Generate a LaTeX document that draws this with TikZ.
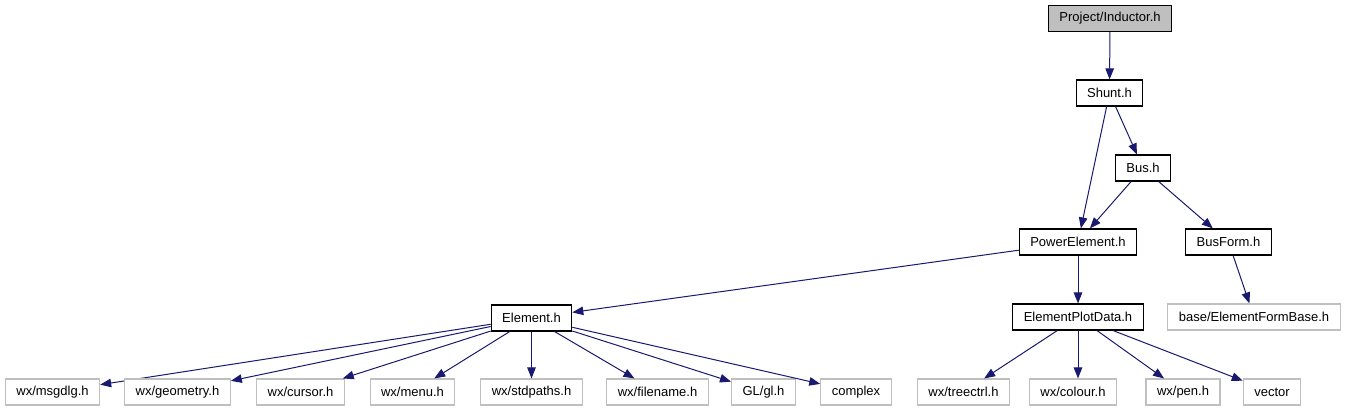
\documentclass[tikz,border=0pt]{standalone}
\usepackage{fontspec}
\setmainfont{Liberation Sans}
\usetikzlibrary{shapes,arrows,arrows.meta,positioning}
\definecolor{EdgeNavy}{RGB}{25, 25, 112}
\definecolor{BoxGray}{RGB}{191, 191, 191}

\tikzset{
  hdr/.style={draw=black, line width=1.1pt, fill=white, inner xsep=11pt, inner ysep=0pt,
    minimum height=26pt, font=\fontsize{13}{15}\selectfont},
  extern/.style={hdr, draw=BoxGray},
  root/.style={hdr, fill=BoxGray},
  dep/.style={draw=EdgeNavy, line width=1pt, -{Triangle[length=11pt,width=8.5pt]}}
}

\begin{document}
\begin{tikzpicture}[x=1pt, y=-1pt]
    \useasboundingbox (0,0) rectangle (1346,411);

    % documented headers
    \node[root] (inductor) at (1110, 18.5) {Project/Inductor.h};
    \node[hdr] (shunt) at (1109.5, 93) {Shunt.h};
    \node[hdr] (bus) at (1143, 168) {Bus.h};
    \node[hdr] (power) at (1078, 242) {PowerElement.h};
    \node[hdr] (busform) at (1228.5, 242) {BusForm.h};
    \node[hdr] (element) at (531.5, 318) {Element.h};
    \node[hdr] (plotdata) at (1078, 317) {ElementPlotData.h};
    \node[extern] (formbase) at (1254, 317) {base/ElementFormBase.h};

    \draw[dep] (inductor) -- (shunt);
    \draw[dep] (shunt) -- (power);
    \draw[dep] (shunt) -- (bus);
    \draw[dep] (bus) -- (power);
    \draw[dep] (bus) -- (busform);
    \draw[dep] (power) -- (element);
    \draw[dep] (power) -- (plotdata);
    \draw[dep] (busform) -- (formbase);

    % system headers below Element.h
    \foreach \name/\x/\txt in {msgdlg/52.5/{wx/msgdlg.h}, geometry/177.5/{wx/geometry.h},
        cursor/300.5/{wx/cursor.h}, menu/412.5/{wx/menu.h}, stdpaths/531.5/{wx/stdpaths.h},
        filename/657.5/{wx/filename.h}, gl/763.5/{GL/gl.h}, complex/856/{complex}} {
      \node[extern] (\name) at (\x, 392) {\txt};
      \draw[dep] (element) -- (\name);
    }

    % system headers below ElementPlotData.h
    \foreach \name/\x/\txt in {treectrl/963.5/{wx/treectrl.h}, colour/1073/{wx/colour.h},
        pen/1183/{wx/pen.h}, vector/1272/{vector}} {
      \node[extern] (\name) at (\x, 392) {\txt};
    }
    \draw[dep] (plotdata) -- (treectrl);
    \draw[dep] (plotdata.south) -- (plotdata.south |- colour.north);
    \draw[dep] (plotdata) -- (pen);
    \draw[dep] (plotdata) -- (vector);
\end{tikzpicture}
\end{document}
